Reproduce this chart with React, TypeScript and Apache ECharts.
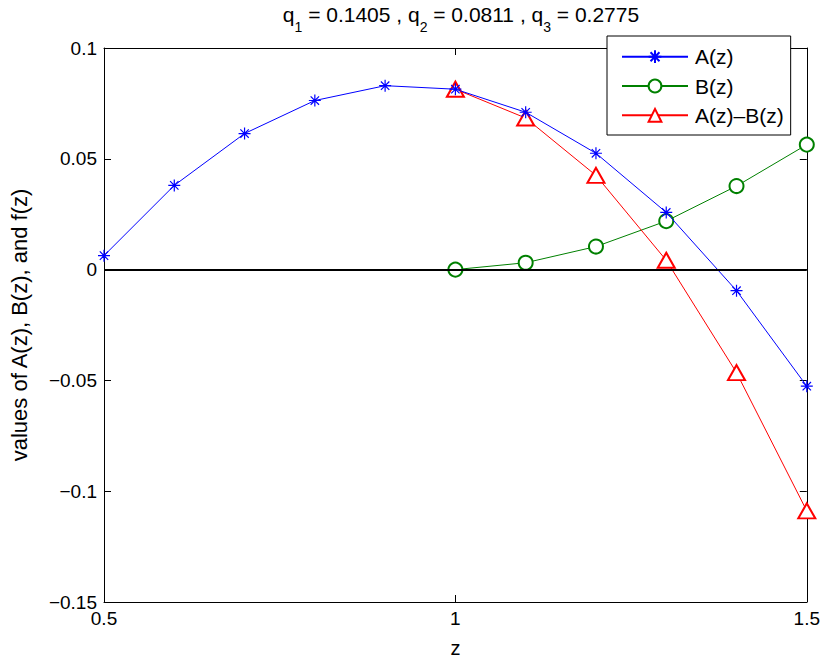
import React, { useEffect, useRef } from "react";
import * as echarts from "echarts";

const zValues = [0.5, 0.6, 0.7, 0.8, 0.9, 1.0, 1.1, 1.2, 1.3, 1.4, 1.5];
const aValues = [0.0063, 0.038, 0.0614, 0.0763, 0.083, 0.0814, 0.071, 0.0525, 0.0258, -0.0095, -0.0526];
const bZ = [1.0, 1.1, 1.2, 1.3, 1.4, 1.5];
const bValues = [0.0, 0.0031, 0.0104, 0.0219, 0.0377, 0.0564];
const abValues = [0.0814, 0.0684, 0.0425, 0.0042, -0.0465, -0.1089];
const seriesNames = ["A(z)", "B(z)", "A(z)–B(z)"];
const titleParts = { q1: "0.1405", q2: "0.0811", q3: "0.2775" };

const FONT = "'Liberation Sans', Arial, Helvetica, sans-serif";
const asterisk = "path://M5,0L5,10M0,5L10,5M1.5,1.5L8.5,8.5M1.5,8.5L8.5,1.5";

function fmt(v: number) {
  const r = Math.round(v * 1000) / 1000;
  if (r === 0) return "0";
  const s = String(Math.abs(r));
  return (r < 0 ? "−" : "") + s;
}

export default function App() {
  const ref = useRef<HTMLDivElement>(null);
  useEffect(() => {
    if (!ref.current) return;
    const chart = echarts.init(ref.current, null, { renderer: "svg" });
    const axisCommon = {
      type: "value" as const,
      axisLine: { show: true, onZero: false, lineStyle: { color: "#000", width: 1 } },
      axisTick: { show: true, inside: true, length: 7, lineStyle: { color: "#000" } },
      splitLine: { show: false },
    };
    const xBase = { ...axisCommon, min: 0.5, max: 1.5, interval: 0.5 };
    const yBase = { ...axisCommon, min: -0.15, max: 0.1, interval: 0.05 };
    const tickFont = { fontSize: 19, color: "#000", fontFamily: FONT };
    const nameFont = { fontSize: 20, color: "#000", fontFamily: FONT };
    chart.setOption({
      animation: false,
      backgroundColor: "#fff",
      textStyle: { fontFamily: FONT },
      title: {
        left: 456,
        top: -3,
        textAlign: "center",
        text:
          "{n|q}{s|1}{n| = " + titleParts.q1 + " , q}{s|2}{n| = " + titleParts.q2 + " , q}{s|3}{n| = " + titleParts.q3 + "}",
        textStyle: {
          fontWeight: "normal",
          rich: {
            n: { fontSize: 21, fontFamily: FONT, fontWeight: "normal", color: "#000", lineHeight: 32, verticalAlign: "top", padding: [2, 0, 0, 0] },
            s: { fontSize: 14, fontFamily: FONT, fontWeight: "normal", color: "#000", lineHeight: 32, verticalAlign: "bottom" },
          },
        },
      },
      grid: { left: 104, right: 15, top: 48, bottom: 60, containLabel: false },
      legend: {
        orient: "vertical",
        left: 607,
        top: 36,
        itemWidth: 66,
        itemHeight: 16,
        itemGap: 7.3,
        padding: [9.7, 7, 8.7, 14],
        borderColor: "#000",
        borderWidth: 1,
        borderRadius: 0,
        backgroundColor: "#fff",
        textStyle: { fontSize: 21, lineHeight: 22, color: "#000", fontFamily: FONT, padding: [0, 0, 0, 2] },
        data: seriesNames,
      },
      xAxis: [
        {
          ...xBase,
          position: "bottom",
          name: "z",
          nameLocation: "middle",
          nameGap: 36,
          nameTextStyle: nameFont,
          axisLabel: { ...tickFont, margin: 7, formatter: fmt },
        },
        { ...xBase, position: "top", axisLabel: { show: false } },
      ],
      yAxis: [
        {
          ...yBase,
          position: "left",
          name: "values of A(z), B(z), and f(z)",
          nameLocation: "middle",
          nameRotate: 90,
          nameGap: 74,
          nameTextStyle: { ...nameFont, fontSize: 22 },
          axisLabel: { ...tickFont, margin: 7, formatter: fmt },
        },
        { ...yBase, position: "right", axisLabel: { show: false } },
      ],
      series: [
        {
          name: seriesNames[0],
          type: "line",
          data: zValues.map((z, i) => [z, aValues[i]]),
          symbol: asterisk,
          symbolSize: 12,
          lineStyle: { color: "#0000ff", width: 1 },
          itemStyle: { color: "#0000ff", borderColor: "#0000ff", borderWidth: 1.2 },
          z: 3,
          markLine: {
            silent: true,
            symbol: "none",
            label: { show: false },
            lineStyle: { color: "#000", width: 2, type: "solid" },
            data: [{ yAxis: 0 }],
          },
        },
        {
          name: seriesNames[1],
          type: "line",
          data: bZ.map((z, i) => [z, bValues[i]]),
          symbol: "emptyCircle",
          symbolSize: 14,
          lineStyle: { color: "#008000", width: 1 },
          itemStyle: { color: "#008000", borderColor: "#008000", borderWidth: 1 },
          z: 2,
        },
        {
          name: seriesNames[2],
          type: "line",
          data: bZ.map((z, i) => [z, abValues[i]]),
          symbol: "emptyTriangle",
          symbolSize: [17, 15],
          lineStyle: { color: "#ff0000", width: 1 },
          itemStyle: { color: "#ff0000", borderColor: "#ff0000", borderWidth: 1 },
          z: 2,
        },
      ],
    });
    return () => chart.dispose();
  }, []);
  return <div ref={ref} style={{ position: "absolute", left: 0, top: 0, width: 823, height: 663 }} />;
}
